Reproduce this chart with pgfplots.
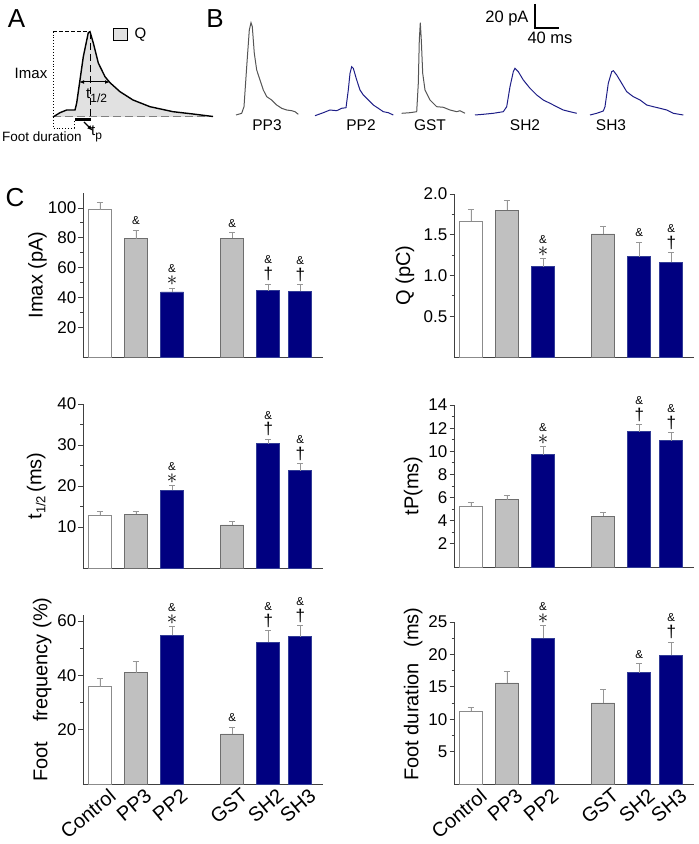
\documentclass[border=0pt]{standalone}
\usepackage{pgfplots}
\pgfplotsset{compat=1.18}
\usepackage{fontspec}
\setmainfont{Liberation Sans}
\usetikzlibrary{arrows.meta}
\definecolor{navyb}{RGB}{0,0,128}
\definecolor{navye}{RGB}{50,60,150}
\definecolor{lgray}{RGB}{192,192,192}
\definecolor{egray}{RGB}{110,110,110}
\definecolor{errc}{RGB}{150,150,150}
\definecolor{trgray}{RGB}{85,85,85}
\definecolor{trblue}{RGB}{30,30,135}
\definecolor{qfill}{RGB}{225,225,225}
\newcommand{\fs}[1]{\fontsize{#1}{#1}\selectfont}
\newcommand{\An}[2]{\node[anchor=south, inner sep=0pt, yshift=5pt, font=\fs{11.5}] at (axis cs:#1,#2) {\&};}
\newcommand{\As}[2]{\node[anchor=south, inner sep=0pt, yshift=2pt] (s) at (axis cs:#1,#2) {\fs{20}$\ast$}; \node[anchor=south, inner sep=0pt, yshift=3pt, font=\fs{11.5}] at (s.north) {\&};}
\newcommand{\Ad}[2]{\node[anchor=south, inner sep=0pt, yshift=3pt] (s) at (axis cs:#1,#2) {\fs{17}\textdagger}; \node[anchor=south, inner sep=0pt, yshift=3pt, font=\fs{11.5}] at (s.north) {\&};}
\pgfplotsset{
 barax/.style={
  scale only axis, width=240pt,
  xmin=-0.47, xmax=6.19, ymin=0,
  axis x line*=bottom, axis y line*=left,
  axis line style={line width=0.9pt, black!75},
  xtick=\empty,
  tick align=outside,
  major tick length=4.5pt, minor tick length=2.5pt,
  minor y tick num=1,
  tick style={line width=0.8pt, black!75},
  /pgf/number format/assume math mode=true,
  yticklabel style={font=\fs{17}, inner sep=2pt},
  ylabel style={font=\fs{20}, at={(axis description cs:-0.19,0.5)}, anchor=center},
  ybar, bar width=23pt, bar shift=0pt,
  clip=false,
 },
 ebar/.style={line width=0.8pt,
  error bars/y dir=plus, error bars/y explicit,
  error bars/error bar style={errc, line width=0.8pt},
  error bars/error mark options={errc, rotate=90, mark size=3pt, line width=0.8pt}},
 wbar/.style={ebar, draw=egray!80, fill=white},
 gbar/.style={ebar, draw=egray, fill=lgray},
 nbar/.style={ebar, draw=navye, fill=navyb},
 xlab/.style={xtick={0,1,2,3.67,4.67,5.56},
  xticklabels={Control,PP3,PP2,GST,SH2,SH3},
  xtick style={draw=none},
  xticklabel style={font=\fs{20}, rotate=40, anchor=north east, inner sep=1pt, xshift=8pt, yshift=-3pt}},
}
\begin{document}
\begin{tikzpicture}
\path[use as bounding box] (0,0) rectangle (699pt,844pt);
% ---------- panels A and B ----------
\begin{axis}[at={(0pt,844pt)}, anchor=north west, scale only axis, width=699pt, height=150pt,
  xmin=0, xmax=699, ymin=0, ymax=150, y dir=reverse, hide axis, clip=false]
% Q area
\addplot[fill=qfill, draw=none] coordinates {(53,117) (60,112.7) (66.7,110) (75,110) (76.7,103) (83.3,56.7) (88.3,32.7) (90,31.7) (93.3,43) (98.3,63) (105,76.7) (110,82.7) (120,91.7) (133,100) (150,106.7) (173,111.7) (193,114) (213,116.5) (213,117)};
\addplot[black, dash pattern=on 7pt off 4pt, line width=0.9pt] coordinates {(90,32) (90,117)};
\addplot[gray, dash pattern=on 8pt off 4pt, line width=1pt] coordinates {(53,117) (213,117)};
\addplot[black, line width=1.4pt] coordinates {(53,117) (60,112.7) (66.7,110) (75,110) (76.7,103) (83.3,56.7) (88.3,32.7) (90,31.7) (93.3,43) (98.3,63) (105,76.7) (110,82.7) (120,91.7) (133,100) (150,106.7) (173,111.7) (193,114) (213,116.5)};
\addplot[black, dash pattern=on 4pt off 2pt, line width=1.2pt] coordinates {(53,31.7) (90,31.7)};
\addplot[black, dotted, line width=0.9pt] coordinates {(53,31.7) (53,117)};
\addplot[black, dotted, line width=0.9pt] coordinates {(53,117) (53,128) (74,128) (74,120)};
\addplot[black, {Latex[length=5pt]}-{Latex[length=5pt]}, line width=1pt] coordinates {(79,82) (110,82)};
\addplot[black, line width=2.2pt] coordinates {(75,119.5) (91,119.5)};
\addplot[black, -{Latex[length=6pt]}, line width=1.2pt] coordinates {(84,122) (93,131)};
\addplot[fill=qfill, draw=black, line width=1pt] coordinates {(113,29) (127,29) (127,41) (113,41) (113,29)};
\node[font=\fs{15}, anchor=west] at (axis cs:131,35) {Q};
\node[font=\fs{15}] at (axis cs:31,73) {Imax};
\node[font=\fs{15}, anchor=west, inner sep=0pt] at (axis cs:86,96) {t\raisebox{-4pt}{\fs{12}1/2}};
\node[font=\fs{13.5}] at (axis cs:42,137) {Foot duration};
\node[font=\fs{15}, anchor=west, inner sep=0pt] at (axis cs:91,134) {t\raisebox{-4pt}{\fs{12}p}};
% panel B traces
\addplot[trgray, line width=1pt] coordinates {(236,115) (241.7,113.3) (244,106.7) (246.7,66.7) (249.3,30) (251,22.7) (252.3,26.7) (254.3,53.3) (256.7,70) (260,80) (263.3,90) (266.7,96.7) (271.7,100) (276.7,105) (281.7,108.3) (286.7,110) (291.7,110.7) (295,111.7) (298.3,114.3)};
\addplot[trblue, line width=1pt] coordinates {(315,115.7) (323.3,112.7) (330,110) (336.7,110.7) (341.7,108.3) (346,107.7) (348.3,90) (350,73.3) (351.7,66.7) (353.3,68.3) (356.7,80) (360,90) (363.3,95) (368.3,100) (373.3,105) (378.3,108.3) (383.3,111.7) (388.3,112.7) (393.3,115)};
\addplot[trgray, line width=1pt] coordinates {(401.7,113.3) (410,112.7) (416.7,111.7) (418.3,83.3) (419.3,40) (420.3,22.7) (421.3,40) (422.7,73.3) (425,90) (430,100) (436.7,106.7) (443.3,107.3) (450,110) (456.7,111.7) (460,110.7) (465,113.3)};
\addplot[trblue, line width=1pt] coordinates {(475,115) (483.3,114.3) (493.3,113.3) (503.3,111.7) (506.7,106.7) (510,86.7) (513.3,71.7) (515,68.3) (518.3,71.7) (523.3,80) (530,88.3) (536.7,95) (543.3,100) (550,103.3) (556.7,106.7) (563.3,110) (570,111.7) (576.7,113.3)};
\addplot[trblue, line width=1pt] coordinates {(590,115) (596.7,113.3) (603.3,111) (605,106.7) (608.3,83.3) (611.7,71.7) (613.3,70.7) (616.7,75) (621.7,83.3) (626.7,91.7) (633.3,96.7) (640,100) (646.7,105) (653.3,106.7) (660,108.3) (666.7,110) (673.3,113.3) (683.3,115)};
\addplot[black, line width=1.1pt] coordinates {(535,4) (535,28) (559,28)};
\node[font=\fs{16.5}, anchor=east] at (axis cs:532,18) {20 pA};
\node[font=\fs{16.5}] at (axis cs:550,38) {40 ms};
\foreach \x/\t in {267/PP3,361/PP2,430/GST,525/SH2,611/SH3}{
  \edef\tmp{\noexpand\node[font=\noexpand\fs{15.5}] at (axis cs:\x,125) {\t};}\tmp
}
\node[font=\fs{26}] at (axis cs:16.5,18.5) {A};
\node[font=\fs{26}] at (axis cs:215,18.5) {B};
\node[font=\fs{26}] at (axis cs:15,198) {C};
\end{axis}
% ---------- Imax ----------
\begin{axis}[barax, at={(83pt,487pt)}, anchor=south west, height=164pt, ymax=110,
  ytick={20,40,60,80,100}, ylabel={Imax (pA)}]
\addplot[wbar] coordinates {(0,98.8) +- (0,5.2)};
\addplot[gbar] coordinates {(1,79.3) +- (0,5.7) (3.67,79.7) +- (0,3.8)};
\addplot[nbar] coordinates {(2,43.6) +- (0,2.7) (4.67,44.4) +- (0,4.6) (5.56,44.2) +- (0,4.3)};
\An{1}{85} \As{2}{46.3} \An{3.67}{83.5} \Ad{4.67}{49} \Ad{5.56}{48.5}
\end{axis}
% ---------- Q ----------
\begin{axis}[barax, at={(454pt,487pt)}, anchor=south west, height=163pt, ymax=2,
  ytick={0.5,1,1.5,2}, yticklabel style={/pgf/number format/.cd, fixed, fixed zerofill, precision=1},
  ylabel={Q (pC)}, ylabel style={at={(axis description cs:-0.204,0.5)}}]
\addplot[wbar] coordinates {(0,1.665) +- (0,0.145)};
\addplot[gbar] coordinates {(1,1.80) +- (0,0.12) (3.67,1.51) +- (0,0.09)};
\addplot[nbar] coordinates {(2,1.11) +- (0,0.10) (4.67,1.23) +- (0,0.18) (5.56,1.16) +- (0,0.12)};
\As{2}{1.21} \An{4.67}{1.41} \Ad{5.56}{1.28}
\end{axis}
% ---------- t1/2 ----------
\begin{axis}[barax, at={(83pt,276pt)}, anchor=south west, height=164pt, ymax=40,
  ytick={10,20,30,40}, ylabel={t\raisebox{-4pt}{\fs{13}1/2}\,(ms)}, ylabel style={at={(axis description cs:-0.195,0.5)}}]
\addplot[wbar] coordinates {(0,12.9) +- (0,0.9)};
\addplot[gbar] coordinates {(1,13.1) +- (0,0.8) (3.67,10.5) +- (0,0.9)};
\addplot[nbar] coordinates {(2,19.0) +- (0,1.1) (4.67,30.3) +- (0,1.1) (5.56,23.7) +- (0,1.8)};
\As{2}{20.1} \Ad{4.67}{31.4} \Ad{5.56}{25.5}
\end{axis}
% ---------- tP ----------
\begin{axis}[barax, at={(454pt,277pt)}, anchor=south west, height=162pt, ymax=14,
  ytick={2,4,6,8,10,12,14}, ylabel={tP(ms)}, ylabel style={at={(axis description cs:-0.17,0.5)}}]
\addplot[wbar] coordinates {(0,5.24) +- (0,0.3)};
\addplot[gbar] coordinates {(1,5.8) +- (0,0.4) (3.67,4.4) +- (0,0.35)};
\addplot[nbar] coordinates {(2,9.7) +- (0,0.7) (4.67,11.7) +- (0,0.6) (5.56,10.9) +- (0,0.7)};
\As{2}{10.4} \Ad{4.67}{12.3} \Ad{5.56}{11.6}
\end{axis}
% ---------- Foot frequency ----------
\begin{axis}[barax, xlab, at={(83pt,60pt)}, anchor=south west, height=168.5pt, ymax=62,
  ytick={20,40,60}, ylabel={Foot\quad frequency (\%)}, ylabel style={at={(axis description cs:-0.17,0.56)}}]
\addplot[wbar] coordinates {(0,35.8) +- (0,3.0)};
\addplot[gbar] coordinates {(1,41) +- (0,4) (3.67,18.4) +- (0,2.6)};
\addplot[nbar] coordinates {(2,54.7) +- (0,3.3) (4.67,52.1) +- (0,4.4) (5.56,54.2) +- (0,4.1)};
\As{2}{58} \An{3.67}{21} \Ad{4.67}{56.5} \Ad{5.56}{58.3}
\end{axis}
% ---------- Foot duration ----------
\begin{axis}[barax, xlab, at={(454pt,60pt)}, anchor=south west, height=162pt, ymax=25,
  ytick={5,10,15,20,25}, ylabel={Foot duration\enspace\ (ms)}, ylabel style={at={(axis description cs:-0.17,0.555)}}]
\addplot[wbar] coordinates {(0,11.2) +- (0,0.6)};
\addplot[gbar] coordinates {(1,15.6) +- (0,1.8) (3.67,12.5) +- (0,2.1)};
\addplot[nbar] coordinates {(2,22.5) +- (0,1.9) (4.67,17.2) +- (0,1.4) (5.56,19.9) +- (0,2.0)};
\As{2}{24.4} \An{4.67}{18.6} \Ad{5.56}{21.9}
\end{axis}
\end{tikzpicture}
\end{document}
